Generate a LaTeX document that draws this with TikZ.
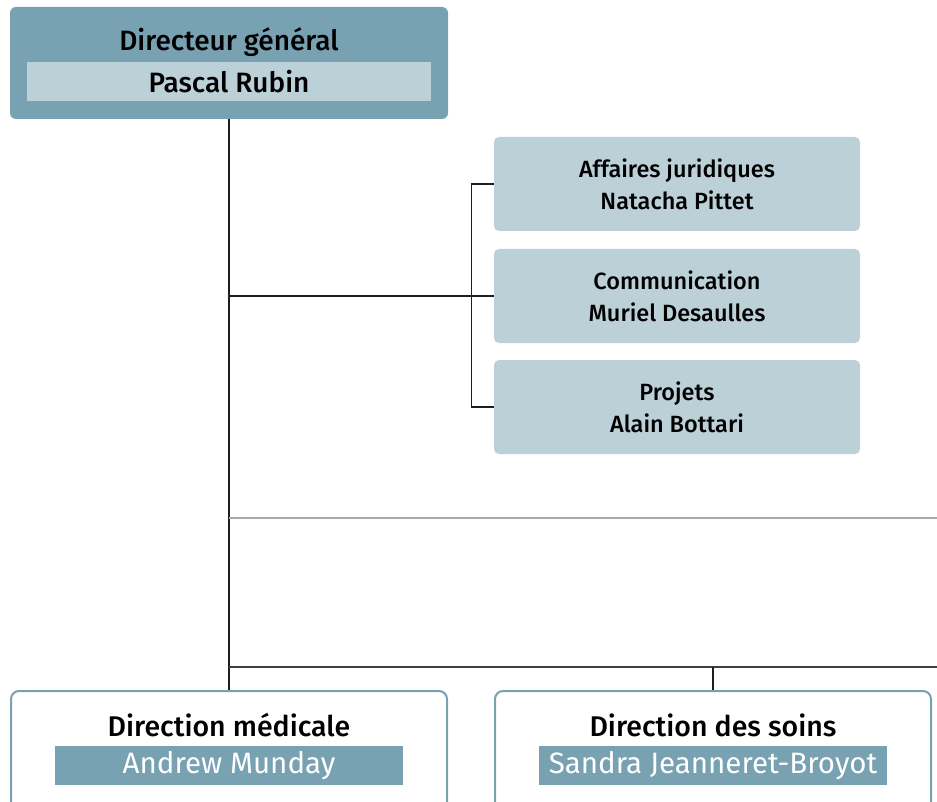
\documentclass[tikz,border=0pt]{standalone}
\usepackage{fontspec}
\setmainfont{Fira Sans}
\newfontfamily\medfont{Fira Sans Medium}
\definecolor{darkblue}{RGB}{120,161,177}
\definecolor{lightblue}{RGB}{188,208,216}
\definecolor{lineblack}{RGB}{30,30,30}
\definecolor{linegray}{RGB}{170,170,170}
\begin{document}
\begin{tikzpicture}[x=1pt,y=-1pt,
  topbox/.style={draw=none,fill=darkblue,rounded corners=6pt,minimum width=438pt,minimum height=112pt,inner sep=0pt},
  band/.style={fill=#1,inner sep=0pt,minimum height=39pt},
  sidebox/.style={fill=lightblue,rounded corners=5pt,minimum width=366pt,minimum height=94pt,inner sep=0pt,align=center,font=\medfont\fontsize{23.5}{32}\selectfont,text=black},
  botbox/.style={draw=darkblue,line width=2pt,fill=white,rounded corners=8pt,minimum width=436pt,minimum height=140pt,inner sep=0pt},
  toptext/.style={font=\medfont\fontsize{28}{32}\selectfont,text=black,inner sep=0pt},
  bottitle/.style={font=\medfont\fontsize{28.5}{32}\selectfont,text=black,inner sep=0pt},
  botname/.style={font=\fontsize{29.5}{32}\selectfont,text=white},
  conn/.style={draw=lineblack,line width=1.3pt},
  connthick/.style={draw=lineblack!85,line width=2pt},
  conngray/.style={draw=linegray,line width=1.5pt}
]
\useasboundingbox (0,0) rectangle (937,802);
\clip (0,0) rectangle (937,802);
% top box
\node[topbox] (dg) at (229,63) {};
\node[toptext] (dgtitle) at (229,42) {Directeur général};
\node[band=lightblue,minimum width=404pt] (dgname) at (229,81.5) {};
\node[toptext] (dgnametext) at (229,81.5) {Pascal Rubin};
% side boxes
\node[sidebox] (aj) at (677,184) {Affaires juridiques\\Natacha Pittet};
\node[sidebox] (com) at (677,296) {Communication\\Muriel Desaulles};
\node[sidebox] (proj) at (677,407) {Projets\\Alain Bottari};
% free ends
\coordinate (gEnd) at (937,518);
\coordinate (bEnd) at (937,667);
% bottom boxes
\node[botbox] (dm) at (229,761) {};
\node[botbox] (ds) at (713,761) {};
\node[bottitle] (dmtitle) at (229,725) {Direction médicale};
\node[band=darkblue,minimum width=348pt,botname] (dmname) at (229,765.5) {Andrew Munday};
\node[bottitle] (dstitle) at (713,725) {Direction des soins};
\node[band=darkblue,minimum width=348pt,botname] (dsname) at (713,765.5) {Sandra Jeanneret-Broyot};
% connectors
\draw[conn] (dg.south) -- (dm.north);
\draw[conn] (dg.south |- com.west) -- (com.west);
\draw[conn] (aj.west) -- ++(-22,0) |- (proj.west);
\draw[conngray] (dg.south |- gEnd) -- (gEnd);
\draw[connthick] (dg.south |- bEnd) -- (bEnd);
\draw[conn] (ds.north |- bEnd) -- (ds.north);
\end{tikzpicture}
\end{document}
